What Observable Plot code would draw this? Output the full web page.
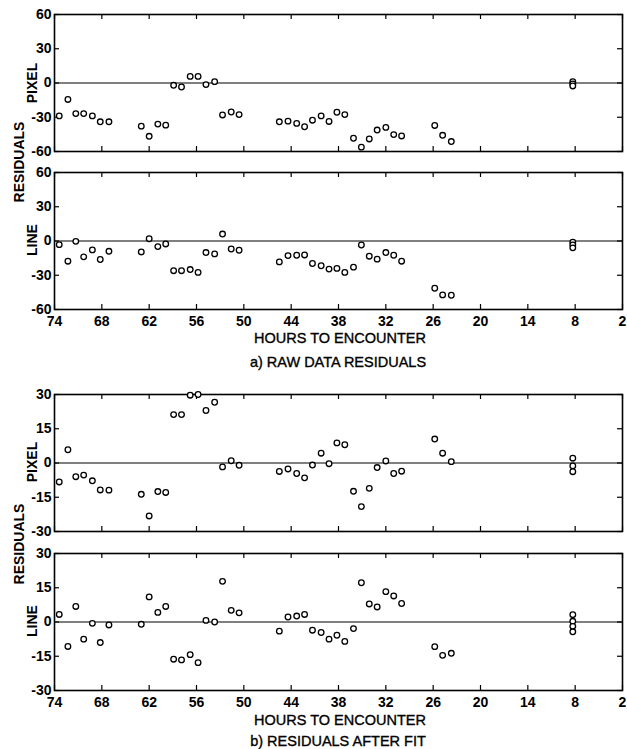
<!DOCTYPE html>
<html><head><meta charset="utf-8">
<script src="https://cdn.jsdelivr.net/npm/d3@7"></script>
<script src="https://cdn.jsdelivr.net/npm/@observablehq/plot@0.6"></script>
<style>
body{margin:0;background:#fff;}
#chart{position:relative;width:627px;height:749px;overflow:hidden;font-family:"Liberation Sans",Arial,sans-serif;color:#000;background:#fff;}
.panel{position:absolute;left:0;}
.lbl{position:absolute;white-space:nowrap;transform:translate(-50%,-50%);font-size:14.5px;-webkit-text-stroke:0.35px #000;}
.rot{transform:translate(-50%,-50%) rotate(-90deg);font-weight:bold;font-size:14px;-webkit-text-stroke:0;}
</style></head><body><div id="chart"></div>
<script>
// Hours to encounter for the 39 main observations
const hours = [73.4,72.3,71.3,70.3,69.2,68.2,67.1,63.0,62.0,60.9,59.9,58.9,57.9,56.8,55.8,54.8,53.7,52.7,51.6,50.6,
  45.5,44.4,43.3,42.3,41.3,40.2,39.2,38.2,37.2,36.1,35.1,34.1,33.1,32.0,31.0,30.0,25.8,24.8,23.7];
const clusterHour = 8.3;

// a) raw data residuals
const rawPixel = [-28.8,-14.4,-26.8,-26.8,-28.8,-34,-34,-37.8,-46.7,-36,-36.9,-2,-3.5,5.8,5.8,-1.4,1.2,-28,-25.4,-27.7,
  -34,-33.4,-35.4,-38.3,-32.6,-28.8,-33.7,-25.6,-27.7,-48.4,-56.2,-49,-41.2,-38.9,-45.2,-46.4,-37.2,-45.8,-51.3];
const rawPixel8 = [1.2,-0.8,-2.6];
const rawLine = [-3.2,-17.7,-0.3,-13.9,-7.8,-16.2,-9,-9.6,2,-4.9,-2.6,-26,-26,-25,-27.5,-10.1,-11.3,6.1,-7,-8.1,
  -18.3,-12.8,-12.5,-12.2,-19.7,-21.7,-24.6,-24,-27.5,-22.9,-3.5,-13.3,-15.9,-10.1,-12.5,-17.7,-41.4,-47.2,-47.5];
const rawLine8 = [-1,-3.5,-6];

// b) residuals after fit
const fitPixel = [-8.3,5.8,-6,-5.3,-7.8,-11.8,-11.9,-13.7,-23.2,-12.5,-12.9,21.2,21.2,29.7,30,23,26.6,-1.7,1,-1,
  -3.7,-2.6,-4.6,-6.5,-0.9,4.3,-0.3,8.8,8,-12.4,-19.1,-11.1,-2,0.9,-4.6,-3.6,10.5,4.3,0.6];
const fitPixel8 = [2.1,-1.3,-3.8];
const fitLine = [3.3,-10.7,6.8,-7.5,-0.6,-9,-1.3,-1,11,4.2,6.8,-16.3,-16.6,-14.3,-17.8,0.7,0,17.8,5.1,4,
  -4,2.2,2.6,3.3,-3.6,-4.6,-7.5,-5.8,-8.5,-2.9,17.2,7.9,6.6,13.3,11.4,8.1,-10.8,-14.6,-13.7];
const fitLine8 = [3.2,0.3,-1.9,-4.3];

const xTicks = [74,68,62,56,50,44,38,32,26,20,14,8,2];
const yTicksA = [-60,-30,0,30,60];
const yTicksB = [-30,-15,0,15,30];
const sectionTitles = ["a) RAW DATA RESIDUALS","b) RESIDUALS AFTER FIT"];
const xTitle = "HOURS TO ENCOUNTER";
const yTitle = "RESIDUALS";
const rowTitles = ["PIXEL","LINE"];

const W = 627, ML = 54, MR = 5, FH = 137, FW = W - ML - MR;
const fmt = d => (d < 0 ? "-" + Math.abs(d) : String(d));
const chart = document.getElementById("chart");

function panel(values, cluster, yDomain, yTicks, top, showX) {
  const data = hours.map((h, i) => ({h, v: values[i]}))
    .concat(cluster.map(v => ({h: clusterHour, v})));
  const mb = showX ? 24 : 4;
  const marks = [
    Plot.ruleY([0], {stroke: "black", strokeWidth: 1.2}),
    Plot.tickX(xTicks, {x: d => d, insetBottom: FH - 5, stroke: "black", strokeWidth: 1.2}),
    Plot.tickX(xTicks, {x: d => d, insetTop: FH - 5, stroke: "black", strokeWidth: 1.2}),
    Plot.tickY(yTicks, {y: d => d, insetRight: FW - 5, stroke: "black", strokeWidth: 1.2}),
    Plot.tickY(yTicks, {y: d => d, insetLeft: FW - 5, stroke: "black", strokeWidth: 1.2}),
    Plot.frame({stroke: "black", strokeWidth: 1.6}),
    Plot.dot(data, {x: "h", y: "v", r: 2.8, stroke: "black", strokeWidth: 1.3, fill: "white"}),
    Plot.axisY(yTicks, {anchor: "left", tickSize: 0, tickPadding: 3, tickFormat: fmt, label: null})
  ];
  if (showX) marks.push(Plot.axisX(xTicks, {anchor: "bottom", tickSize: 0, tickPadding: 7, tickFormat: fmt, label: null}));
  const svg = Plot.plot({
    width: W, height: 14 + FH + mb,
    marginLeft: ML, marginRight: MR, marginTop: 14, marginBottom: mb,
    x: {domain: [74, 2], axis: showX ? undefined : null},
    y: {domain: yDomain},
    style: {fontFamily: "'Liberation Sans', Arial, sans-serif", fontSize: "14px", fontWeight: "bold", background: "transparent", overflow: "visible"},
    marks
  });
  svg.classList.add("panel");
  svg.style.top = top + "px";
  chart.appendChild(svg);
}

function label(text, x, y, cls) {
  const d = document.createElement("div");
  d.className = "lbl" + (cls ? " " + cls : "");
  d.textContent = text;
  d.style.left = x + "px";
  d.style.top = y + "px";
  chart.appendChild(d);
}

panel(rawPixel, rawPixel8, [-60, 60], yTicksA, 0, false);
panel(rawLine, rawLine8, [-60, 60], yTicksA, 158, true);
panel(fitPixel, fitPixel8, [-30, 30], yTicksB, 380, false);
panel(fitLine, fitLine8, [-30, 30], yTicksB, 539, true);

label(xTitle, 340, 338);
label(sectionTitles[0], 338, 362);
label(xTitle, 340, 720);
label(sectionTitles[1], 338, 741);
label(yTitle, 19, 162, "rot");
label(yTitle, 19, 544, "rot");
label(rowTitles[0], 32, 83, "rot");
label(rowTitles[1], 32, 240, "rot");
label(rowTitles[0], 32, 462, "rot");
label(rowTitles[1], 32, 621, "rot");
</script></body></html>
